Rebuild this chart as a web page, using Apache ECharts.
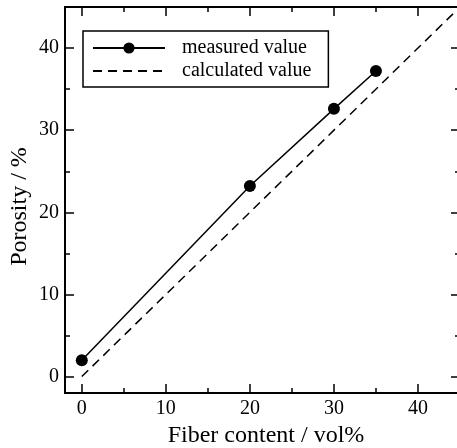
<!DOCTYPE html>
<html>
<head>
<meta charset="utf-8">
<script src="https://cdn.jsdelivr.net/npm/echarts@6/dist/echarts.min.js"></script>
<style>
html,body{margin:0;padding:0;background:#fff;}
#chart{width:457px;height:448px;}
</style>
</head>
<body>
<div id="chart"></div>
<script>
var fiberContent = [0, 20, 30, 35];
var measuredPorosity = [2.0, 23.2, 32.6, 37.2];
var calcX = [0, 45];
var calcY = [0, 45];
var majorTicks = [0, 10, 20, 30, 40];
var minorTicks = [5, 15, 25, 35];
var seriesNames = ['measured value', 'calculated value'];
var xName = 'Fiber content / vol%';
var yName = 'Porosity / %';

var FONT = "'Liberation Serif','Times New Roman',serif";
var chart = echarts.init(document.getElementById('chart'), null, {renderer: 'canvas'});

function axisBase(pos, major, showLine, withLabels) {
  return {
    type: 'value', position: pos, min: -2, max: 45,
    axisLine: {show: showLine, onZero: false, lineStyle: {color: '#000', width: 2}},
    axisTick: {show: true, inside: true, length: major ? 9 : 5,
      customValues: major ? majorTicks : minorTicks,
      lineStyle: {color: '#000', width: 1.5}},
    axisLabel: withLabels ? {show: true, customValues: majorTicks, color: '#000',
      fontFamily: FONT, fontSize: 20, margin: 6} : {show: false},
    splitLine: {show: false}
  };
}

var x0 = axisBase('bottom', true, true, true);
x0.name = xName; x0.nameLocation = 'middle'; x0.nameGap = 31; x0.nameMoveOverlap = false;
x0.nameTextStyle = {fontFamily: FONT, fontSize: 24, color: '#000', verticalAlign: 'top', padding: [0, 0, 0, 7]};
var y0 = axisBase('left', true, true, true);
y0.name = yName; y0.nameLocation = 'middle'; y0.nameGap = 33; y0.nameMoveOverlap = false;
y0.nameTextStyle = {fontFamily: FONT, fontSize: 24, color: '#000', padding: [0, 13, 0, 0]};

var measuredData = fiberContent.map(function (x, i) { return [x, measuredPorosity[i]]; });
var calcData = calcX.map(function (x, i) { return [x, calcY[i]]; });

chart.setOption({
  animation: false,
  backgroundColor: '#fff',
  grid: {left: 65, top: 7, right: -3, bottom: 55, containLabel: false, outerBoundsMode: 'none'},
  xAxis: [x0, axisBase('bottom', false, false, false), axisBase('top', true, true, false), axisBase('top', false, false, false)],
  yAxis: [y0, axisBase('left', false, false, false), axisBase('right', true, true, false), axisBase('right', false, false, false)],
  legend: {
    orient: 'vertical', left: 83, top: 31,
    data: [
      {name: seriesNames[0]},
      {name: seriesNames[1], itemStyle: {color: 'rgba(0,0,0,0)', borderColor: 'rgba(0,0,0,0)', borderWidth: 0, opacity: 0}}
    ],
    itemWidth: 72, itemHeight: 14, itemGap: 3,
    padding: [7, 17, 6, 9],
    borderColor: '#000', borderWidth: 1.5, borderRadius: 0,
    textStyle: {fontFamily: FONT, fontSize: 20, color: '#000', padding: [0, 0, 0, 12]}
  },
  series: [
    {
      name: seriesNames[0], type: 'line', data: measuredData,
      xAxisIndex: 0, yAxisIndex: 0,
      symbol: 'circle', symbolSize: 12, showSymbol: true,
      lineStyle: {color: '#000', width: 1.5},
      itemStyle: {color: '#000'}
    },
    {
      name: seriesNames[1], type: 'line', data: calcData,
      xAxisIndex: 0, yAxisIndex: 0,
      symbol: 'none',
      lineStyle: {color: '#000', width: 1.5, type: [9, 6]},
      itemStyle: {color: '#000'}
    }
  ]
});
</script>
</body>
</html>
